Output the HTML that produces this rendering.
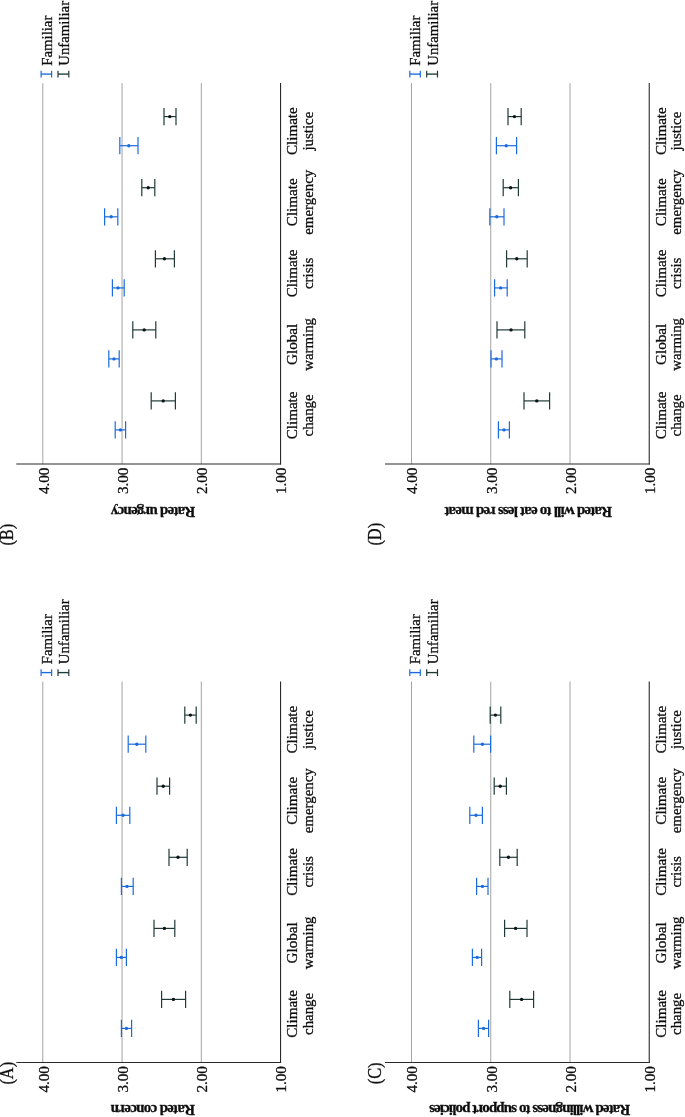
<!DOCTYPE html>
<html lang="en"><head><meta charset="utf-8"><title>Figure</title>
<style>
html,body{margin:0;padding:0;background:#fff;}
body{width:685px;height:1117px;overflow:hidden;}
svg{display:block;}
svg text{font-family:"Liberation Serif","Times New Roman",Times,serif;fill:#0d0d0d;stroke:#0d0d0d;stroke-width:0.3px;}
</style></head><body>
<svg width="685" height="1117" viewBox="0 0 685 1117">
<rect width="685" height="1117" fill="#fff"/>
<g opacity="0.999">
<g id="panelA">
<line x1="42.8" y1="681.6" x2="42.8" y2="1062.5" stroke="#a3a3a3" stroke-width="1.0"/>
<line x1="122.05" y1="681.6" x2="122.05" y2="1062.5" stroke="#a3a3a3" stroke-width="1.0"/>
<line x1="201.3" y1="681.6" x2="201.3" y2="1062.5" stroke="#a3a3a3" stroke-width="1.0"/>
<line x1="16.3" y1="1062.5" x2="281.1" y2="1062.5" stroke="#2a2a2a" stroke-width="1.1"/>
<line x1="280.55" y1="681.6" x2="280.55" y2="1063.05" stroke="#2a2a2a" stroke-width="1.1"/>
<text transform="translate(48.65 1066.1) rotate(-90) scale(0.97 1)" text-anchor="end" font-size="15.6">4.00</text>
<text transform="translate(127.9 1066.1) rotate(-90) scale(0.97 1)" text-anchor="end" font-size="15.6">3.00</text>
<text transform="translate(207.15 1066.1) rotate(-90) scale(0.97 1)" text-anchor="end" font-size="15.6">2.00</text>
<text transform="translate(286.4 1066.1) rotate(-90) scale(0.97 1)" text-anchor="end" font-size="15.6">1.00</text>
<text transform="translate(297.35 1013.9) rotate(-90) scale(0.976 1)" text-anchor="middle" font-size="15.5">Climate</text>
<text transform="translate(312.75 1013.9) rotate(-90) scale(0.96 1)" text-anchor="middle" font-size="15.5">change</text>
<text transform="translate(297.35 942.9) rotate(-90) scale(0.976 1)" text-anchor="middle" font-size="15.5">Global</text>
<text transform="translate(312.75 942.9) rotate(-90) scale(0.96 1)" text-anchor="middle" font-size="15.5">warming</text>
<text transform="translate(297.35 871.85) rotate(-90) scale(0.976 1)" text-anchor="middle" font-size="15.5">Climate</text>
<text transform="translate(312.75 871.85) rotate(-90) scale(0.96 1)" text-anchor="middle" font-size="15.5">crisis</text>
<text transform="translate(297.35 800.75) rotate(-90) scale(0.976 1)" text-anchor="middle" font-size="15.5">Climate</text>
<text transform="translate(312.75 800.75) rotate(-90) scale(0.96 1)" text-anchor="middle" font-size="15.5">emergency</text>
<text transform="translate(297.35 729.65) rotate(-90) scale(0.976 1)" text-anchor="middle" font-size="15.5">Climate</text>
<text transform="translate(312.75 729.65) rotate(-90) scale(0.96 1)" text-anchor="middle" font-size="15.5">justice</text>
<line x1="41.1" y1="672.6" x2="51.6" y2="672.6" stroke="#1b6be0" stroke-width="1.35"/>
<line x1="41.1" y1="669.2" x2="41.1" y2="676" stroke="#1b6be0" stroke-width="1.2"/>
<line x1="51.6" y1="669.2" x2="51.6" y2="676" stroke="#1b6be0" stroke-width="1.2"/>
<text transform="translate(51.6 664.2) rotate(-90) scale(0.966 1)" text-anchor="start" font-size="15.3">Familiar</text>
<line x1="58" y1="672.6" x2="68.8" y2="672.6" stroke="#1f3a37" stroke-width="1.35"/>
<line x1="58" y1="669.2" x2="58" y2="676" stroke="#1f3a37" stroke-width="1.2"/>
<line x1="68.8" y1="669.2" x2="68.8" y2="676" stroke="#1f3a37" stroke-width="1.2"/>
<text transform="translate(68.8 664.2) rotate(-90) scale(0.966 1)" text-anchor="start" font-size="15.3">Unfamiliar</text>
<text transform="translate(12.6 1084.6) rotate(-90) scale(0.89 1)" text-anchor="start" font-size="18.4">(A)</text>
<text transform="translate(195 1105.3) rotate(180)" font-size="15.0" font-weight="bold" textLength="84.3" lengthAdjust="spacing">Rated concern</text>
<line x1="121.4" y1="1028.4" x2="131.6" y2="1028.4" stroke="#1b6be0" stroke-width="1.2"/>
<line x1="121.4" y1="1019.8" x2="121.4" y2="1037" stroke="#1b6be0" stroke-width="1.2"/>
<line x1="131.6" y1="1019.8" x2="131.6" y2="1037" stroke="#1b6be0" stroke-width="1.2"/>
<circle cx="126.4" cy="1028.4" r="1.7" fill="#1b6be0"/>
<line x1="161.6" y1="999.4" x2="185.6" y2="999.4" stroke="#1f3a37" stroke-width="1.2"/>
<line x1="161.6" y1="990.8" x2="161.6" y2="1008" stroke="#1f3a37" stroke-width="1.2"/>
<line x1="185.6" y1="990.8" x2="185.6" y2="1008" stroke="#1f3a37" stroke-width="1.2"/>
<circle cx="173.4" cy="999.4" r="1.7" fill="#0c1514"/>
<line x1="116.4" y1="957.4" x2="126.4" y2="957.4" stroke="#1b6be0" stroke-width="1.2"/>
<line x1="116.4" y1="948.8" x2="116.4" y2="966" stroke="#1b6be0" stroke-width="1.2"/>
<line x1="126.4" y1="948.8" x2="126.4" y2="966" stroke="#1b6be0" stroke-width="1.2"/>
<circle cx="121.4" cy="957.4" r="1.7" fill="#1b6be0"/>
<line x1="154" y1="928.4" x2="174.8" y2="928.4" stroke="#1f3a37" stroke-width="1.2"/>
<line x1="154" y1="919.8" x2="154" y2="937" stroke="#1f3a37" stroke-width="1.2"/>
<line x1="174.8" y1="919.8" x2="174.8" y2="937" stroke="#1f3a37" stroke-width="1.2"/>
<circle cx="164.4" cy="928.4" r="1.7" fill="#0c1514"/>
<line x1="121.4" y1="886.4" x2="133.2" y2="886.4" stroke="#1b6be0" stroke-width="1.2"/>
<line x1="121.4" y1="877.8" x2="121.4" y2="895" stroke="#1b6be0" stroke-width="1.2"/>
<line x1="133.2" y1="877.8" x2="133.2" y2="895" stroke="#1b6be0" stroke-width="1.2"/>
<circle cx="127" cy="886.4" r="1.7" fill="#1b6be0"/>
<line x1="169" y1="857.3" x2="187.2" y2="857.3" stroke="#1f3a37" stroke-width="1.2"/>
<line x1="169" y1="848.7" x2="169" y2="865.9" stroke="#1f3a37" stroke-width="1.2"/>
<line x1="187.2" y1="848.7" x2="187.2" y2="865.9" stroke="#1f3a37" stroke-width="1.2"/>
<circle cx="178" cy="857.3" r="1.7" fill="#0c1514"/>
<line x1="116.4" y1="815.3" x2="129.8" y2="815.3" stroke="#1b6be0" stroke-width="1.2"/>
<line x1="116.4" y1="806.7" x2="116.4" y2="823.9" stroke="#1b6be0" stroke-width="1.2"/>
<line x1="129.8" y1="806.7" x2="129.8" y2="823.9" stroke="#1b6be0" stroke-width="1.2"/>
<circle cx="123" cy="815.3" r="1.7" fill="#1b6be0"/>
<line x1="157" y1="786.2" x2="169.6" y2="786.2" stroke="#1f3a37" stroke-width="1.2"/>
<line x1="157" y1="777.6" x2="157" y2="794.8" stroke="#1f3a37" stroke-width="1.2"/>
<line x1="169.6" y1="777.6" x2="169.6" y2="794.8" stroke="#1f3a37" stroke-width="1.2"/>
<circle cx="163.2" cy="786.2" r="1.7" fill="#0c1514"/>
<line x1="128.2" y1="744.2" x2="145.8" y2="744.2" stroke="#1b6be0" stroke-width="1.2"/>
<line x1="128.2" y1="735.6" x2="128.2" y2="752.8" stroke="#1b6be0" stroke-width="1.2"/>
<line x1="145.8" y1="735.6" x2="145.8" y2="752.8" stroke="#1b6be0" stroke-width="1.2"/>
<circle cx="136.8" cy="744.2" r="1.7" fill="#1b6be0"/>
<line x1="184.8" y1="715.1" x2="196.2" y2="715.1" stroke="#1f3a37" stroke-width="1.2"/>
<line x1="184.8" y1="706.5" x2="184.8" y2="723.7" stroke="#1f3a37" stroke-width="1.2"/>
<line x1="196.2" y1="706.5" x2="196.2" y2="723.7" stroke="#1f3a37" stroke-width="1.2"/>
<circle cx="190.4" cy="715.1" r="1.7" fill="#0c1514"/>
</g>
<g id="panelB">
<line x1="42.8" y1="83.1" x2="42.8" y2="464" stroke="#a3a3a3" stroke-width="1.0"/>
<line x1="122.05" y1="83.1" x2="122.05" y2="464" stroke="#a3a3a3" stroke-width="1.0"/>
<line x1="201.3" y1="83.1" x2="201.3" y2="464" stroke="#a3a3a3" stroke-width="1.0"/>
<line x1="16.3" y1="464" x2="281.1" y2="464" stroke="#2a2a2a" stroke-width="1.1"/>
<line x1="280.55" y1="83.1" x2="280.55" y2="464.55" stroke="#2a2a2a" stroke-width="1.1"/>
<text transform="translate(48.65 467.6) rotate(-90) scale(0.97 1)" text-anchor="end" font-size="15.6">4.00</text>
<text transform="translate(127.9 467.6) rotate(-90) scale(0.97 1)" text-anchor="end" font-size="15.6">3.00</text>
<text transform="translate(207.15 467.6) rotate(-90) scale(0.97 1)" text-anchor="end" font-size="15.6">2.00</text>
<text transform="translate(286.4 467.6) rotate(-90) scale(0.97 1)" text-anchor="end" font-size="15.6">1.00</text>
<text transform="translate(297.35 415.4) rotate(-90) scale(0.976 1)" text-anchor="middle" font-size="15.5">Climate</text>
<text transform="translate(312.75 415.4) rotate(-90) scale(0.96 1)" text-anchor="middle" font-size="15.5">change</text>
<text transform="translate(297.35 344.4) rotate(-90) scale(0.976 1)" text-anchor="middle" font-size="15.5">Global</text>
<text transform="translate(312.75 344.4) rotate(-90) scale(0.96 1)" text-anchor="middle" font-size="15.5">warming</text>
<text transform="translate(297.35 273.35) rotate(-90) scale(0.976 1)" text-anchor="middle" font-size="15.5">Climate</text>
<text transform="translate(312.75 273.35) rotate(-90) scale(0.96 1)" text-anchor="middle" font-size="15.5">crisis</text>
<text transform="translate(297.35 202.25) rotate(-90) scale(0.976 1)" text-anchor="middle" font-size="15.5">Climate</text>
<text transform="translate(312.75 202.25) rotate(-90) scale(0.96 1)" text-anchor="middle" font-size="15.5">emergency</text>
<text transform="translate(297.35 131.15) rotate(-90) scale(0.976 1)" text-anchor="middle" font-size="15.5">Climate</text>
<text transform="translate(312.75 131.15) rotate(-90) scale(0.96 1)" text-anchor="middle" font-size="15.5">justice</text>
<line x1="41.1" y1="74.1" x2="51.6" y2="74.1" stroke="#1b6be0" stroke-width="1.35"/>
<line x1="41.1" y1="70.7" x2="41.1" y2="77.5" stroke="#1b6be0" stroke-width="1.2"/>
<line x1="51.6" y1="70.7" x2="51.6" y2="77.5" stroke="#1b6be0" stroke-width="1.2"/>
<text transform="translate(51.6 65.7) rotate(-90) scale(0.966 1)" text-anchor="start" font-size="15.3">Familiar</text>
<line x1="58" y1="74.1" x2="68.8" y2="74.1" stroke="#1f3a37" stroke-width="1.35"/>
<line x1="58" y1="70.7" x2="58" y2="77.5" stroke="#1f3a37" stroke-width="1.2"/>
<line x1="68.8" y1="70.7" x2="68.8" y2="77.5" stroke="#1f3a37" stroke-width="1.2"/>
<text transform="translate(68.8 65.7) rotate(-90) scale(0.966 1)" text-anchor="start" font-size="15.3">Unfamiliar</text>
<text transform="translate(12.6 545.6) rotate(-90) scale(0.89 1)" text-anchor="start" font-size="18.4">(B)</text>
<text transform="translate(195.2 506.8) rotate(180)" font-size="15.0" font-weight="bold" textLength="84.4" lengthAdjust="spacing">Rated urgency</text>
<line x1="115.2" y1="429.9" x2="125.6" y2="429.9" stroke="#1b6be0" stroke-width="1.2"/>
<line x1="115.2" y1="421.3" x2="115.2" y2="438.5" stroke="#1b6be0" stroke-width="1.2"/>
<line x1="125.6" y1="421.3" x2="125.6" y2="438.5" stroke="#1b6be0" stroke-width="1.2"/>
<circle cx="120.4" cy="429.9" r="1.7" fill="#1b6be0"/>
<line x1="151.2" y1="400.9" x2="175.4" y2="400.9" stroke="#1f3a37" stroke-width="1.2"/>
<line x1="151.2" y1="392.3" x2="151.2" y2="409.5" stroke="#1f3a37" stroke-width="1.2"/>
<line x1="175.4" y1="392.3" x2="175.4" y2="409.5" stroke="#1f3a37" stroke-width="1.2"/>
<circle cx="163.2" cy="400.9" r="1.7" fill="#0c1514"/>
<line x1="108.8" y1="358.9" x2="119.2" y2="358.9" stroke="#1b6be0" stroke-width="1.2"/>
<line x1="108.8" y1="350.3" x2="108.8" y2="367.5" stroke="#1b6be0" stroke-width="1.2"/>
<line x1="119.2" y1="350.3" x2="119.2" y2="367.5" stroke="#1b6be0" stroke-width="1.2"/>
<circle cx="114" cy="358.9" r="1.7" fill="#1b6be0"/>
<line x1="132.8" y1="329.9" x2="155.8" y2="329.9" stroke="#1f3a37" stroke-width="1.2"/>
<line x1="132.8" y1="321.3" x2="132.8" y2="338.5" stroke="#1f3a37" stroke-width="1.2"/>
<line x1="155.8" y1="321.3" x2="155.8" y2="338.5" stroke="#1f3a37" stroke-width="1.2"/>
<circle cx="144.2" cy="329.9" r="1.7" fill="#0c1514"/>
<line x1="112.4" y1="287.9" x2="124.2" y2="287.9" stroke="#1b6be0" stroke-width="1.2"/>
<line x1="112.4" y1="279.3" x2="112.4" y2="296.5" stroke="#1b6be0" stroke-width="1.2"/>
<line x1="124.2" y1="279.3" x2="124.2" y2="296.5" stroke="#1b6be0" stroke-width="1.2"/>
<circle cx="118" cy="287.9" r="1.7" fill="#1b6be0"/>
<line x1="155.4" y1="258.8" x2="174.4" y2="258.8" stroke="#1f3a37" stroke-width="1.2"/>
<line x1="155.4" y1="250.2" x2="155.4" y2="267.4" stroke="#1f3a37" stroke-width="1.2"/>
<line x1="174.4" y1="250.2" x2="174.4" y2="267.4" stroke="#1f3a37" stroke-width="1.2"/>
<circle cx="164.4" cy="258.8" r="1.7" fill="#0c1514"/>
<line x1="104.6" y1="216.8" x2="117.8" y2="216.8" stroke="#1b6be0" stroke-width="1.2"/>
<line x1="104.6" y1="208.2" x2="104.6" y2="225.4" stroke="#1b6be0" stroke-width="1.2"/>
<line x1="117.8" y1="208.2" x2="117.8" y2="225.4" stroke="#1b6be0" stroke-width="1.2"/>
<circle cx="111.2" cy="216.8" r="1.7" fill="#1b6be0"/>
<line x1="141.8" y1="187.7" x2="154.8" y2="187.7" stroke="#1f3a37" stroke-width="1.2"/>
<line x1="141.8" y1="179.1" x2="141.8" y2="196.3" stroke="#1f3a37" stroke-width="1.2"/>
<line x1="154.8" y1="179.1" x2="154.8" y2="196.3" stroke="#1f3a37" stroke-width="1.2"/>
<circle cx="148.2" cy="187.7" r="1.7" fill="#0c1514"/>
<line x1="119.8" y1="145.7" x2="138" y2="145.7" stroke="#1b6be0" stroke-width="1.2"/>
<line x1="119.8" y1="137.1" x2="119.8" y2="154.3" stroke="#1b6be0" stroke-width="1.2"/>
<line x1="138" y1="137.1" x2="138" y2="154.3" stroke="#1b6be0" stroke-width="1.2"/>
<circle cx="128.8" cy="145.7" r="1.7" fill="#1b6be0"/>
<line x1="164" y1="116.6" x2="176" y2="116.6" stroke="#1f3a37" stroke-width="1.2"/>
<line x1="164" y1="108" x2="164" y2="125.2" stroke="#1f3a37" stroke-width="1.2"/>
<line x1="176" y1="108" x2="176" y2="125.2" stroke="#1f3a37" stroke-width="1.2"/>
<circle cx="169.8" cy="116.6" r="1.7" fill="#0c1514"/>
</g>
<g id="panelC">
<line x1="411.5" y1="681.6" x2="411.5" y2="1062.5" stroke="#a3a3a3" stroke-width="1.0"/>
<line x1="490.75" y1="681.6" x2="490.75" y2="1062.5" stroke="#a3a3a3" stroke-width="1.0"/>
<line x1="570" y1="681.6" x2="570" y2="1062.5" stroke="#a3a3a3" stroke-width="1.0"/>
<line x1="385" y1="1062.5" x2="649.8" y2="1062.5" stroke="#2a2a2a" stroke-width="1.1"/>
<line x1="649.25" y1="681.6" x2="649.25" y2="1063.05" stroke="#2a2a2a" stroke-width="1.1"/>
<text transform="translate(417.35 1066.1) rotate(-90) scale(0.97 1)" text-anchor="end" font-size="15.6">4.00</text>
<text transform="translate(496.6 1066.1) rotate(-90) scale(0.97 1)" text-anchor="end" font-size="15.6">3.00</text>
<text transform="translate(575.85 1066.1) rotate(-90) scale(0.97 1)" text-anchor="end" font-size="15.6">2.00</text>
<text transform="translate(655.1 1066.1) rotate(-90) scale(0.97 1)" text-anchor="end" font-size="15.6">1.00</text>
<text transform="translate(666.05 1013.9) rotate(-90) scale(0.976 1)" text-anchor="middle" font-size="15.5">Climate</text>
<text transform="translate(681.45 1013.9) rotate(-90) scale(0.96 1)" text-anchor="middle" font-size="15.5">change</text>
<text transform="translate(666.05 942.9) rotate(-90) scale(0.976 1)" text-anchor="middle" font-size="15.5">Global</text>
<text transform="translate(681.45 942.9) rotate(-90) scale(0.96 1)" text-anchor="middle" font-size="15.5">warming</text>
<text transform="translate(666.05 871.85) rotate(-90) scale(0.976 1)" text-anchor="middle" font-size="15.5">Climate</text>
<text transform="translate(681.45 871.85) rotate(-90) scale(0.96 1)" text-anchor="middle" font-size="15.5">crisis</text>
<text transform="translate(666.05 800.75) rotate(-90) scale(0.976 1)" text-anchor="middle" font-size="15.5">Climate</text>
<text transform="translate(681.45 800.75) rotate(-90) scale(0.96 1)" text-anchor="middle" font-size="15.5">emergency</text>
<text transform="translate(666.05 729.65) rotate(-90) scale(0.976 1)" text-anchor="middle" font-size="15.5">Climate</text>
<text transform="translate(681.45 729.65) rotate(-90) scale(0.96 1)" text-anchor="middle" font-size="15.5">justice</text>
<line x1="409.8" y1="672.6" x2="420.3" y2="672.6" stroke="#1b6be0" stroke-width="1.35"/>
<line x1="409.8" y1="669.2" x2="409.8" y2="676" stroke="#1b6be0" stroke-width="1.2"/>
<line x1="420.3" y1="669.2" x2="420.3" y2="676" stroke="#1b6be0" stroke-width="1.2"/>
<text transform="translate(420.3 664.2) rotate(-90) scale(0.966 1)" text-anchor="start" font-size="15.3">Familiar</text>
<line x1="426.7" y1="672.6" x2="437.5" y2="672.6" stroke="#1f3a37" stroke-width="1.35"/>
<line x1="426.7" y1="669.2" x2="426.7" y2="676" stroke="#1f3a37" stroke-width="1.2"/>
<line x1="437.5" y1="669.2" x2="437.5" y2="676" stroke="#1f3a37" stroke-width="1.2"/>
<text transform="translate(437.5 664.2) rotate(-90) scale(0.966 1)" text-anchor="start" font-size="15.3">Unfamiliar</text>
<text transform="translate(381.3 1084.3) rotate(-90) scale(0.89 1)" text-anchor="start" font-size="18.4">(C)</text>
<text transform="translate(630.2 1105.3) rotate(180)" font-size="15.0" font-weight="bold" textLength="201" lengthAdjust="spacing">Rated willingness to support policies</text>
<line x1="478.4" y1="1028.4" x2="488.6" y2="1028.4" stroke="#1b6be0" stroke-width="1.2"/>
<line x1="478.4" y1="1019.8" x2="478.4" y2="1037" stroke="#1b6be0" stroke-width="1.2"/>
<line x1="488.6" y1="1019.8" x2="488.6" y2="1037" stroke="#1b6be0" stroke-width="1.2"/>
<circle cx="483.6" cy="1028.4" r="1.7" fill="#1b6be0"/>
<line x1="509.8" y1="999.4" x2="533.6" y2="999.4" stroke="#1f3a37" stroke-width="1.2"/>
<line x1="509.8" y1="990.8" x2="509.8" y2="1008" stroke="#1f3a37" stroke-width="1.2"/>
<line x1="533.6" y1="990.8" x2="533.6" y2="1008" stroke="#1f3a37" stroke-width="1.2"/>
<circle cx="521.6" cy="999.4" r="1.7" fill="#0c1514"/>
<line x1="472.4" y1="957.4" x2="481.6" y2="957.4" stroke="#1b6be0" stroke-width="1.2"/>
<line x1="472.4" y1="948.8" x2="472.4" y2="966" stroke="#1b6be0" stroke-width="1.2"/>
<line x1="481.6" y1="948.8" x2="481.6" y2="966" stroke="#1b6be0" stroke-width="1.2"/>
<circle cx="477.2" cy="957.4" r="1.7" fill="#1b6be0"/>
<line x1="504.6" y1="928.4" x2="527" y2="928.4" stroke="#1f3a37" stroke-width="1.2"/>
<line x1="504.6" y1="919.8" x2="504.6" y2="937" stroke="#1f3a37" stroke-width="1.2"/>
<line x1="527" y1="919.8" x2="527" y2="937" stroke="#1f3a37" stroke-width="1.2"/>
<circle cx="515.6" cy="928.4" r="1.7" fill="#0c1514"/>
<line x1="476.6" y1="886.4" x2="488" y2="886.4" stroke="#1b6be0" stroke-width="1.2"/>
<line x1="476.6" y1="877.8" x2="476.6" y2="895" stroke="#1b6be0" stroke-width="1.2"/>
<line x1="488" y1="877.8" x2="488" y2="895" stroke="#1b6be0" stroke-width="1.2"/>
<circle cx="482.4" cy="886.4" r="1.7" fill="#1b6be0"/>
<line x1="499.8" y1="857.3" x2="517.2" y2="857.3" stroke="#1f3a37" stroke-width="1.2"/>
<line x1="499.8" y1="848.7" x2="499.8" y2="865.9" stroke="#1f3a37" stroke-width="1.2"/>
<line x1="517.2" y1="848.7" x2="517.2" y2="865.9" stroke="#1f3a37" stroke-width="1.2"/>
<circle cx="508.4" cy="857.3" r="1.7" fill="#0c1514"/>
<line x1="469.8" y1="815.3" x2="482.4" y2="815.3" stroke="#1b6be0" stroke-width="1.2"/>
<line x1="469.8" y1="806.7" x2="469.8" y2="823.9" stroke="#1b6be0" stroke-width="1.2"/>
<line x1="482.4" y1="806.7" x2="482.4" y2="823.9" stroke="#1b6be0" stroke-width="1.2"/>
<circle cx="476" cy="815.3" r="1.7" fill="#1b6be0"/>
<line x1="494.2" y1="786.2" x2="506.4" y2="786.2" stroke="#1f3a37" stroke-width="1.2"/>
<line x1="494.2" y1="777.6" x2="494.2" y2="794.8" stroke="#1f3a37" stroke-width="1.2"/>
<line x1="506.4" y1="777.6" x2="506.4" y2="794.8" stroke="#1f3a37" stroke-width="1.2"/>
<circle cx="500.2" cy="786.2" r="1.7" fill="#0c1514"/>
<line x1="473.8" y1="744.2" x2="490.6" y2="744.2" stroke="#1b6be0" stroke-width="1.2"/>
<line x1="473.8" y1="735.6" x2="473.8" y2="752.8" stroke="#1b6be0" stroke-width="1.2"/>
<line x1="490.6" y1="735.6" x2="490.6" y2="752.8" stroke="#1b6be0" stroke-width="1.2"/>
<circle cx="482.4" cy="744.2" r="1.7" fill="#1b6be0"/>
<line x1="490.2" y1="715.1" x2="500.8" y2="715.1" stroke="#1f3a37" stroke-width="1.2"/>
<line x1="490.2" y1="706.5" x2="490.2" y2="723.7" stroke="#1f3a37" stroke-width="1.2"/>
<line x1="500.8" y1="706.5" x2="500.8" y2="723.7" stroke="#1f3a37" stroke-width="1.2"/>
<circle cx="495.4" cy="715.1" r="1.7" fill="#0c1514"/>
</g>
<g id="panelD">
<line x1="411.5" y1="83.1" x2="411.5" y2="464" stroke="#a3a3a3" stroke-width="1.0"/>
<line x1="490.75" y1="83.1" x2="490.75" y2="464" stroke="#a3a3a3" stroke-width="1.0"/>
<line x1="570" y1="83.1" x2="570" y2="464" stroke="#a3a3a3" stroke-width="1.0"/>
<line x1="385" y1="464" x2="649.8" y2="464" stroke="#2a2a2a" stroke-width="1.1"/>
<line x1="649.25" y1="83.1" x2="649.25" y2="464.55" stroke="#2a2a2a" stroke-width="1.1"/>
<text transform="translate(417.35 467.6) rotate(-90) scale(0.97 1)" text-anchor="end" font-size="15.6">4.00</text>
<text transform="translate(496.6 467.6) rotate(-90) scale(0.97 1)" text-anchor="end" font-size="15.6">3.00</text>
<text transform="translate(575.85 467.6) rotate(-90) scale(0.97 1)" text-anchor="end" font-size="15.6">2.00</text>
<text transform="translate(655.1 467.6) rotate(-90) scale(0.97 1)" text-anchor="end" font-size="15.6">1.00</text>
<text transform="translate(666.05 415.4) rotate(-90) scale(0.976 1)" text-anchor="middle" font-size="15.5">Climate</text>
<text transform="translate(681.45 415.4) rotate(-90) scale(0.96 1)" text-anchor="middle" font-size="15.5">change</text>
<text transform="translate(666.05 344.4) rotate(-90) scale(0.976 1)" text-anchor="middle" font-size="15.5">Global</text>
<text transform="translate(681.45 344.4) rotate(-90) scale(0.96 1)" text-anchor="middle" font-size="15.5">warming</text>
<text transform="translate(666.05 273.35) rotate(-90) scale(0.976 1)" text-anchor="middle" font-size="15.5">Climate</text>
<text transform="translate(681.45 273.35) rotate(-90) scale(0.96 1)" text-anchor="middle" font-size="15.5">crisis</text>
<text transform="translate(666.05 202.25) rotate(-90) scale(0.976 1)" text-anchor="middle" font-size="15.5">Climate</text>
<text transform="translate(681.45 202.25) rotate(-90) scale(0.96 1)" text-anchor="middle" font-size="15.5">emergency</text>
<text transform="translate(666.05 131.15) rotate(-90) scale(0.976 1)" text-anchor="middle" font-size="15.5">Climate</text>
<text transform="translate(681.45 131.15) rotate(-90) scale(0.96 1)" text-anchor="middle" font-size="15.5">justice</text>
<line x1="409.8" y1="74.1" x2="420.3" y2="74.1" stroke="#1b6be0" stroke-width="1.35"/>
<line x1="409.8" y1="70.7" x2="409.8" y2="77.5" stroke="#1b6be0" stroke-width="1.2"/>
<line x1="420.3" y1="70.7" x2="420.3" y2="77.5" stroke="#1b6be0" stroke-width="1.2"/>
<text transform="translate(420.3 65.7) rotate(-90) scale(0.966 1)" text-anchor="start" font-size="15.3">Familiar</text>
<line x1="426.7" y1="74.1" x2="437.5" y2="74.1" stroke="#1f3a37" stroke-width="1.35"/>
<line x1="426.7" y1="70.7" x2="426.7" y2="77.5" stroke="#1f3a37" stroke-width="1.2"/>
<line x1="437.5" y1="70.7" x2="437.5" y2="77.5" stroke="#1f3a37" stroke-width="1.2"/>
<text transform="translate(437.5 65.7) rotate(-90) scale(0.966 1)" text-anchor="start" font-size="15.3">Unfamiliar</text>
<text transform="translate(381.3 545.6) rotate(-90) scale(0.89 1)" text-anchor="start" font-size="18.4">(D)</text>
<text transform="translate(612 506.8) rotate(180)" font-size="15.0" font-weight="bold" textLength="167.6" lengthAdjust="spacing">Rated will to eat less red meat</text>
<line x1="498.4" y1="429.9" x2="509.4" y2="429.9" stroke="#1b6be0" stroke-width="1.2"/>
<line x1="498.4" y1="421.3" x2="498.4" y2="438.5" stroke="#1b6be0" stroke-width="1.2"/>
<line x1="509.4" y1="421.3" x2="509.4" y2="438.5" stroke="#1b6be0" stroke-width="1.2"/>
<circle cx="504" cy="429.9" r="1.7" fill="#1b6be0"/>
<line x1="524" y1="400.9" x2="549.6" y2="400.9" stroke="#1f3a37" stroke-width="1.2"/>
<line x1="524" y1="392.3" x2="524" y2="409.5" stroke="#1f3a37" stroke-width="1.2"/>
<line x1="549.6" y1="392.3" x2="549.6" y2="409.5" stroke="#1f3a37" stroke-width="1.2"/>
<circle cx="536.8" cy="400.9" r="1.7" fill="#0c1514"/>
<line x1="491" y1="358.9" x2="502" y2="358.9" stroke="#1b6be0" stroke-width="1.2"/>
<line x1="491" y1="350.3" x2="491" y2="367.5" stroke="#1b6be0" stroke-width="1.2"/>
<line x1="502" y1="350.3" x2="502" y2="367.5" stroke="#1b6be0" stroke-width="1.2"/>
<circle cx="496.4" cy="358.9" r="1.7" fill="#1b6be0"/>
<line x1="497" y1="329.9" x2="524.8" y2="329.9" stroke="#1f3a37" stroke-width="1.2"/>
<line x1="497" y1="321.3" x2="497" y2="338.5" stroke="#1f3a37" stroke-width="1.2"/>
<line x1="524.8" y1="321.3" x2="524.8" y2="338.5" stroke="#1f3a37" stroke-width="1.2"/>
<circle cx="511" cy="329.9" r="1.7" fill="#0c1514"/>
<line x1="494.6" y1="287.9" x2="507.2" y2="287.9" stroke="#1b6be0" stroke-width="1.2"/>
<line x1="494.6" y1="279.3" x2="494.6" y2="296.5" stroke="#1b6be0" stroke-width="1.2"/>
<line x1="507.2" y1="279.3" x2="507.2" y2="296.5" stroke="#1b6be0" stroke-width="1.2"/>
<circle cx="500.6" cy="287.9" r="1.7" fill="#1b6be0"/>
<line x1="506.6" y1="258.8" x2="527.2" y2="258.8" stroke="#1f3a37" stroke-width="1.2"/>
<line x1="506.6" y1="250.2" x2="506.6" y2="267.4" stroke="#1f3a37" stroke-width="1.2"/>
<line x1="527.2" y1="250.2" x2="527.2" y2="267.4" stroke="#1f3a37" stroke-width="1.2"/>
<circle cx="516.8" cy="258.8" r="1.7" fill="#0c1514"/>
<line x1="489.8" y1="216.8" x2="504" y2="216.8" stroke="#1b6be0" stroke-width="1.2"/>
<line x1="489.8" y1="208.2" x2="489.8" y2="225.4" stroke="#1b6be0" stroke-width="1.2"/>
<line x1="504" y1="208.2" x2="504" y2="225.4" stroke="#1b6be0" stroke-width="1.2"/>
<circle cx="496.8" cy="216.8" r="1.7" fill="#1b6be0"/>
<line x1="503.2" y1="187.7" x2="518.4" y2="187.7" stroke="#1f3a37" stroke-width="1.2"/>
<line x1="503.2" y1="179.1" x2="503.2" y2="196.3" stroke="#1f3a37" stroke-width="1.2"/>
<line x1="518.4" y1="179.1" x2="518.4" y2="196.3" stroke="#1f3a37" stroke-width="1.2"/>
<circle cx="510.6" cy="187.7" r="1.7" fill="#0c1514"/>
<line x1="496.4" y1="145.7" x2="516.6" y2="145.7" stroke="#1b6be0" stroke-width="1.2"/>
<line x1="496.4" y1="137.1" x2="496.4" y2="154.3" stroke="#1b6be0" stroke-width="1.2"/>
<line x1="516.6" y1="137.1" x2="516.6" y2="154.3" stroke="#1b6be0" stroke-width="1.2"/>
<circle cx="506.2" cy="145.7" r="1.7" fill="#1b6be0"/>
<line x1="508" y1="116.6" x2="521.2" y2="116.6" stroke="#1f3a37" stroke-width="1.2"/>
<line x1="508" y1="108" x2="508" y2="125.2" stroke="#1f3a37" stroke-width="1.2"/>
<line x1="521.2" y1="108" x2="521.2" y2="125.2" stroke="#1f3a37" stroke-width="1.2"/>
<circle cx="514.4" cy="116.6" r="1.7" fill="#0c1514"/>
</g>
</g>
</svg>
</body></html>
